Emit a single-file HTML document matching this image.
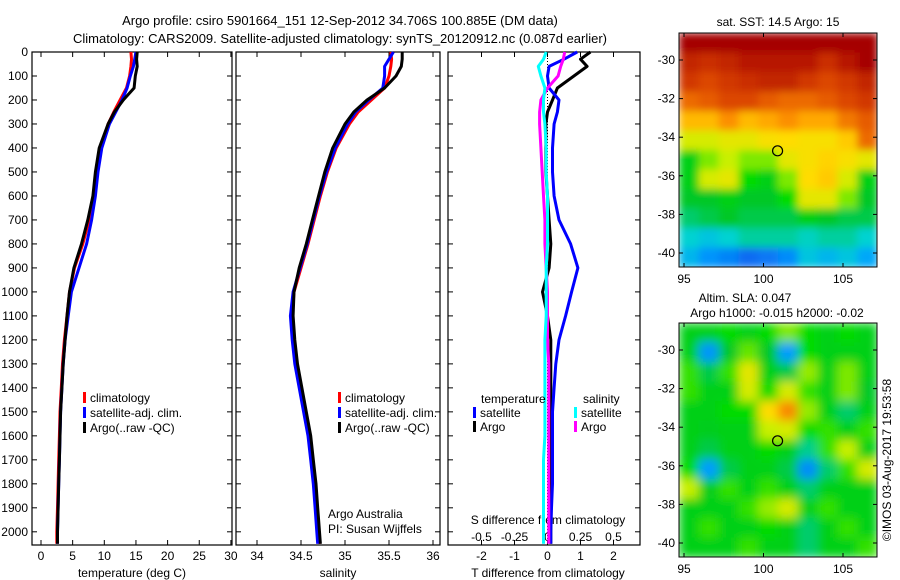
<!DOCTYPE html>
<html><head><meta charset="utf-8"><style>
body{margin:0;background:#fff;}
svg{display:block;font-family:"Liberation Sans",sans-serif;}
</style></head><body>
<svg id="fig" width="900" height="580" viewBox="0 0 900 580">
<defs>
<filter id="b1" x="0" y="0" width="1" height="1"><feGaussianBlur stdDeviation="4" edgeMode="duplicate"/></filter>
<filter id="b2" x="0" y="0" width="1" height="1"><feGaussianBlur stdDeviation="5" edgeMode="duplicate"/></filter>
<clipPath id="c1"><rect x="679" y="33" width="198" height="234"/></clipPath>
<clipPath id="c2"><rect x="679" y="323" width="198" height="234"/></clipPath>
</defs>
<text x="340" y="25" font-size="13" text-anchor="middle">Argo profile: csiro 5901664_151 12-Sep-2012 34.706S 100.885E (DM data)</text>
<text x="340" y="43" font-size="13" text-anchor="middle">Climatology: CARS2009. Satellite-adjusted climatology: synTS_20120912.nc (0.087d earlier)</text>
<g id="g"></g>
</svg>
<script>
// ---- data ----
const depths = [0,30,60,100,150,200,250,300,400,500,600,700,800,900,1000,1100,1200,1300,1400,1500,1600,1700,1800,1900,2000,2050];
const tClim  = [14.2,14.3,14.2,14.0,13.5,12.5,11.5,10.6,9.4,8.8,8.3,7.6,6.6,5.3,4.5,4.1,3.7,3.4,3.2,3.0,2.9,2.8,2.7,2.6,2.5,2.5];
const tSat   = [15.0,14.8,14.6,14.1,13.6,12.8,11.8,10.8,9.6,9.0,8.6,8.0,7.2,6.0,4.8,4.3,3.8,3.5,3.3,3.1,3.0,2.9,2.8,2.7,2.6,2.6];
const tArgo  = [15.2,15.1,15.2,14.9,14.7,13.0,11.6,10.6,9.2,8.6,8.2,7.4,6.4,5.2,4.5,4.1,3.8,3.5,3.3,3.1,3.0,2.9,2.8,2.7,2.6,2.6];
const sClim  = [35.52,35.53,35.52,35.50,35.45,35.30,35.15,35.05,34.90,34.80,34.72,34.65,34.58,34.50,34.42,34.40,34.42,34.45,34.50,34.55,34.60,34.63,34.66,34.68,34.70,34.71];
const sSat   = [35.55,35.5,35.45,35.45,35.43,35.27,35.12,35.03,34.89,34.79,34.71,34.64,34.57,34.49,34.41,34.38,34.40,34.43,34.48,34.53,34.58,34.61,34.64,34.66,34.68,34.69];
const sArgo  = [35.65,35.65,35.64,35.58,35.45,35.25,35.10,35.00,34.86,34.77,34.70,34.63,34.56,34.48,34.42,34.41,34.43,34.46,34.51,34.56,34.61,34.64,34.67,34.69,34.71,34.72];
const dTSat  = [0.9,0.5,0.05,0.0,0.05,0.35,0.3,0.2,0.15,0.15,0.2,0.35,0.7,0.92,0.73,0.55,0.35,0.25,0.2,0.15,0.15,0.15,0.15,0.12,0.1,0.1];
const dTArgo = [1.3,1.0,1.2,0.8,0.3,0.15,0.0,-0.05,-0.05,-0.05,0.0,0.05,0.1,0.05,-0.15,0.0,0.1,0.1,0.1,0.1,0.1,0.1,0.1,0.1,0.1,0.1];
const dSSat  = [-0.01,-0.03,-0.07,-0.05,-0.02,-0.03,-0.03,-0.02,-0.01,-0.01,0.0,0.0,0.0,-0.01,-0.01,-0.01,-0.02,-0.02,-0.02,-0.02,-0.02,-0.03,-0.03,-0.03,-0.03,-0.03];
const dSArgo = [0.13,0.12,0.1,0.08,0.0,-0.05,-0.06,-0.06,-0.05,-0.04,-0.03,-0.02,-0.02,-0.01,0.0,0.0,0.0,0.01,0.01,0.01,0.01,0.01,0.01,0.01,0.01,0.01];
const depthTicks = [0,100,200,300,400,500,600,700,800,900,1000,1100,1200,1300,1400,1500,1600,1700,1800,1900,2000];
const tTicks = [0,5,10,15,20,25,30];
const sTicks = [34,34.5,35,35.5,36];
const dTTicks = [-2,-1,0,1,2];
const dSTicks = [-0.5,-0.25,0,0.25,0.5];
const latTicks = [-30,-32,-34,-36,-38,-40];
const lonTicks = [95,100,105];
const argoLon = 100.885, argoLat = -34.706;
const sstGrid = [
[1,1,1,1,1,1,1,1,1,1],
[.92,.9,.92,.95,.95,.95,.95,.9,.95,1],
[.88,.85,.88,.9,.92,.92,.88,.85,.88,.92],
[.8,.82,.85,.85,.82,.8,.8,.82,.85,.88],
[.7,.7,.75,.7,.72,.75,.72,.72,.78,.82],
[.6,.6,.62,.62,.65,.66,.65,.65,.68,.8],
[.45,.55,.58,.55,.55,.62,.65,.67,.65,.62],
[.45,.6,.62,.5,.45,.55,.66,.68,.6,.45],
[.42,.42,.45,.42,.42,.5,.62,.62,.55,.42],
[.38,.4,.42,.4,.4,.4,.45,.42,.4,.4],
[.32,.3,.32,.35,.35,.35,.33,.35,.35,.32],
[.28,.22,.18,.12,.15,.2,.3,.28,.3,.26]];
const slaGrid = [
[.45,.45,.5,.45,.5,.55,.5,.45,.5,.45],
[.45,.22,.42,.54,.42,.24,.5,.45,.45,.45],
[.52,.4,.52,.62,.45,.4,.56,.45,.55,.45],
[.52,.45,.45,.6,.5,.6,.52,.45,.55,.42],
[.45,.45,.5,.5,.66,.76,.56,.45,.38,.45],
[.45,.44,.45,.45,.58,.6,.5,.52,.45,.52],
[.45,.4,.45,.45,.5,.45,.36,.52,.58,.45],
[.5,.24,.4,.45,.45,.4,.2,.38,.52,.6],
[.58,.44,.52,.45,.52,.45,.38,.45,.45,.45],
[.45,.45,.45,.52,.56,.6,.45,.52,.45,.45],
[.45,.52,.45,.45,.5,.45,.38,.45,.52,.45],
[.45,.45,.45,.52,.45,.45,.38,.45,.45,.52]];

// ---- helpers ----
const NS="http://www.w3.org/2000/svg";
const G=document.getElementById('g');
function el(tag,attrs,parent){const e=document.createElementNS(NS,tag);for(const k in attrs)e.setAttribute(k,attrs[k]);(parent||G).appendChild(e);return e;}
const yD = d => 52 + d*(493/2055);
const xT = t => 41 + t*6.33;
const xS = s => 257 + (s-34)*88;
const xDT = v => 547.5 + v*33;
const xDS = v => 547.5 + v*132;

function panel(x0,x1,name){
  const r=el('rect',{x:x0,y:52,width:x1-x0,height:493,fill:'none',stroke:'#000','stroke-width':1.2});
  
  
  depthTicks.forEach(d=>{
    el('line',{x1:x0,x2:x0+5,y1:yD(d),y2:yD(d),stroke:'#000'});
    el('line',{x1:x1-5,x2:x1,y1:yD(d),y2:yD(d),stroke:'#000'});
  });
}
function xticks(vals,f,x0,x1,ylab,top){
  vals.forEach(v=>{
    const x=f(v);
    el('line',{x1:x,x2:x,y1:545,y2:540,stroke:'#000'});
    if(top) el('line',{x1:x,x2:x,y1:52,y2:57,stroke:'#000'});
    const t=el('text',{x:x,y:ylab,'font-size':12,'text-anchor':'middle'});
    t.textContent=String(v);
    
    
  });
}
function line(xs,f,color,name,w){
  const pts=depths.map((d,i)=>f(xs[i]).toFixed(1)+','+yD(d).toFixed(1)).join(' ');
  const p=el('polyline',{points:pts,fill:'none',stroke:color,'stroke-width':w||3,'stroke-linejoin':'round'});
  
  
}
function txt(x,y,s,size,anchor,name){
  const t=el('text',{x:x,y:y,'font-size':size||12,'text-anchor':anchor||'start'});t.textContent=s;
  
  
  return t;
}
function legend(x,y,color,label,name){
  const r=el('rect',{x:x,y:y-10,width:3,height:11,fill:color});
  
  
  txt(x+7,y,label,12,'start',name);
}

// ---- panel 1: temperature ----
panel(32,232,'temperature-panel');
depthTicks.forEach(d=>{txt(28,yD(d)+4,String(d),12,'end','depth-tick-label');});
xticks(tTicks,xT,32,232,560,true);
txt(132,577,'temperature (deg C)',12,'middle','temperature-axis-title');
line(tClim,xT,'#f00','temperature-climatology');
line(tSat,xT,'#00f','temperature-satellite-adj');
line(tArgo,xT,'#000','temperature-argo');
legend(83,402,'#f00','climatology','legend-climatology');
legend(83,417,'#00f','satellite-adj. clim.','legend-satellite-adj');
legend(83,432,'#000','Argo(..raw -QC)','legend-argo');

// ---- panel 2: salinity ----
panel(236,440,'salinity-panel');
xticks(sTicks,xS,236,440,560,true);
txt(338,577,'salinity',12,'middle','salinity-axis-title');
line(sClim,xS,'#f00','salinity-climatology');
line(sSat,xS,'#00f','salinity-satellite-adj');
line(sArgo,xS,'#000','salinity-argo');
legend(338,402,'#f00','climatology','legend-climatology-2');
legend(338,417,'#00f','satellite-adj. clim.','legend-satellite-adj-2');
legend(338,432,'#000','Argo(..raw -QC)','legend-argo-2');
txt(328,518,'Argo Australia',12,'start','credit-argo-australia');
txt(328,533,'PI: Susan Wijffels',12,'start','credit-pi');

// ---- panel 3: differences ----
panel(448,640,'difference-panel');
xticks(dTTicks,xDT,448,640,560,true);
dSTicks.forEach(v=>{txt(xDS(v),541,String(v),12,'middle','s-diff-tick-label');});
txt(548,524,'S difference from climatology',12,'middle','s-diff-axis-title');
txt(548,577,'T difference from climatology',12,'middle','t-diff-axis-title');
el('line',{x1:547.5,x2:547.5,y1:52,y2:545,stroke:'#000','stroke-dasharray':'1,2'});
line(dTArgo,xDT,'#000','t-diff-argo');
line(dTSat,xDT,'#00f','t-diff-satellite');
line(dSArgo,xDS,'#f0f','s-diff-argo');
line(dSSat,xDS,'#0ff','s-diff-satellite');
txt(481,403,'temperature',12,'start','legend-temperature-heading');
txt(583,403,'salinity',12,'start','legend-salinity-heading');
legend(473,417,'#00f','satellite','legend-t-satellite');
legend(473,431,'#000','Argo','legend-t-argo');
legend(574,417,'#0ff','satellite','legend-s-satellite');
legend(574,431,'#f0f','Argo','legend-s-argo');

// ---- maps ----
function cmap(v){
  const stops=[[0,[20,60,230]],[0.25,[0,160,255]],[0.32,[0,210,210]],[0.42,[0,200,40]],[0.5,[0,220,0]],[0.58,[200,240,0]],[0.66,[255,220,0]],[0.74,[255,150,0]],[0.85,[220,70,0]],[1,[165,0,0]]];
  for(let i=1;i<stops.length;i++){ if(v<=stops[i][0]){const a=stops[i-1],b=stops[i];const f=(v-a[0])/(b[0]-a[0]);return 'rgb('+a[1].map((c,k)=>Math.round(c+(b[1][k]-c)*f)).join(',')+')';}}
  return 'rgb(165,0,0)';
}
function map(grid,y0,clip,filt,name){
  const x0=679,w=198,h=234;
  const lonX=l=>684+(l-95)*15.9;
  const latY=l=>y0+27+(-30-l)*19.3;
  const g=el('g',{'clip-path':'url(#'+clip+')'});
  const inner=el('g',{filter:'url(#'+filt+')'},g);
  const rows=grid.length,cols=grid[0].length;
  grid.forEach((row,ri)=>row.forEach((v,ci)=>{
    el('rect',{x:x0+ci*w/cols,y:y0+ri*h/rows,width:w/cols+1,height:h/rows+1,fill:cmap(v)},inner);
  }));
  const r=el('rect',{x:x0,y:y0,width:w,height:h,fill:'none',stroke:'#000'});
  
  
  latTicks.forEach(l=>{
    const y=latY(l);
    el('line',{x1:x0,x2:x0+4,y1:y,y2:y,stroke:'#000'});
    el('line',{x1:x0+w-4,x2:x0+w,y1:y,y2:y,stroke:'#000'});
    txt(675,y+4,String(l),12,'end','lat-tick-label');
  });
  lonTicks.forEach(l=>{
    const x=lonX(l);
    el('line',{x1:x,x2:x,y1:y0+h,y2:y0+h-4,stroke:'#000'});
    el('line',{x1:x,x2:x,y1:y0,y2:y0+4,stroke:'#000'});
    txt(x,y0+h+16,String(l),12,'middle','lon-tick-label');
  });
  const c=el('circle',{cx:lonX(argoLon),cy:latY(argoLat),r:5,fill:'none',stroke:'#000','stroke-width':1.2});
  
  
}
map(sstGrid,33,'c1','b1','sst-map');
map(slaGrid,323,'c2','b2','sla-map');
txt(778,26,'sat. SST: 14.5 Argo: 15',12,'middle','sst-map-title');
txt(745,302,'Altim. SLA: 0.047',12,'middle','sla-map-title');
txt(777,317,'Argo h1000: -0.015 h2000: -0.02',12,'middle','sla-map-subtitle');
const cr=txt(0,0,'©IMOS 03-Aug-2017 19:53:58',12,'middle','copyright-timestamp');
cr.setAttribute('transform','translate(891,460) rotate(-90)');
</script>
</body></html>
